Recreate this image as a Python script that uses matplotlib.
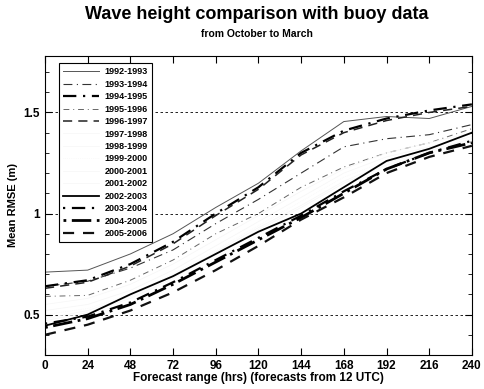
import numpy as np
import matplotlib
matplotlib.use("Agg")
import matplotlib.pyplot as plt
from matplotlib.ticker import MultipleLocator, FixedLocator

plt.rcParams['font.family'] = ['Liberation Sans', 'DejaVu Sans']
plt.rcParams['font.weight'] = 'bold'

# forecast range (hours)
hours = [0, 24, 48, 72, 96, 120, 144, 168, 192, 216, 240]

# mean RMSE (m) per season
y1992 = [0.71, 0.72, 0.80, 0.90, 1.03, 1.15, 1.31, 1.455, 1.48, 1.47, 1.53]
y1993 = [0.64, 0.665, 0.73, 0.82, 0.95, 1.07, 1.20, 1.33, 1.37, 1.39, 1.44]
y1994 = [0.64, 0.67, 0.75, 0.86, 1.00, 1.13, 1.30, 1.41, 1.47, 1.51, 1.54]
y1995 = [0.59, 0.595, 0.67, 0.77, 0.90, 1.00, 1.13, 1.23, 1.30, 1.35, 1.42]
y1996 = [0.63, 0.66, 0.74, 0.85, 0.99, 1.12, 1.29, 1.40, 1.46, 1.50, 1.53]
y1997 = [0.55, 0.58, 0.65, 0.75, 0.87, 0.99, 1.11, 1.22, 1.30, 1.35, 1.40]
y1998 = [0.52, 0.55, 0.62, 0.72, 0.84, 0.96, 1.08, 1.20, 1.28, 1.33, 1.38]
y1999 = [0.50, 0.53, 0.60, 0.70, 0.82, 0.94, 1.06, 1.18, 1.26, 1.32, 1.37]
y2000 = [0.48, 0.52, 0.59, 0.69, 0.81, 0.93, 1.04, 1.16, 1.25, 1.31, 1.37]
y2001 = [0.47, 0.51, 0.58, 0.68, 0.80, 0.92, 1.03, 1.15, 1.24, 1.30, 1.36]
y2002 = [0.445, 0.50, 0.60, 0.69, 0.80, 0.91, 1.00, 1.13, 1.26, 1.32, 1.40]
y2003 = [0.455, 0.49, 0.56, 0.66, 0.77, 0.88, 0.99, 1.11, 1.22, 1.30, 1.36]
y2004 = [0.436, 0.48, 0.55, 0.65, 0.76, 0.87, 0.98, 1.10, 1.22, 1.30, 1.35]
y2005 = [0.40, 0.45, 0.52, 0.61, 0.72, 0.84, 0.97, 1.08, 1.20, 1.28, 1.335]

labels = ["1992-1993", "1993-1994", "1994-1995", "1995-1996", "1996-1997",
          "1997-1998", "1998-1999", "1999-2000", "2000-2001", "2001-2002",
          "2002-2003", "2003-2004", "2004-2005", "2005-2006"]
series = [y1992, y1993, y1994, y1995, y1996, y1997, y1998, y1999, y2000,
          y2001, y2002, y2003, y2004, y2005]

faint = '#f6f6f6'
styles = [
    dict(color='#555555', lw=0.7, ls='-'),
    dict(color='#333333', lw=0.8, ls=(0, (8, 4, 1, 4))),
    dict(color='black', lw=1.6, ls=(0, (6, 3, 1, 3))),
    dict(color='#666666', lw=0.7, ls=(0, (6, 4, 1, 4))),
    dict(color='#222222', lw=1.1, ls=(0, (6, 4))),
    dict(color=faint, lw=0.5, ls='-'),
    dict(color=faint, lw=0.5, ls='-'),
    dict(color=faint, lw=0.5, ls=':'),
    dict(color=faint, lw=0.5, ls='-'),
    dict(color=faint, lw=0.5, ls='-'),
    dict(color='black', lw=1.3, ls='-'),
    dict(color='black', lw=1.6, ls=(0, (1, 3, 6, 3))),
    dict(color='black', lw=2.0, ls=(0, (1, 2, 7, 2))),
    dict(color='#111111', lw=1.6, ls=(0, (5, 4))),
]

fig = plt.figure(figsize=(4.84, 3.89), dpi=100)
ax = fig.add_axes([0.093, 0.0874, 0.882, 0.769])

for vals, lab, st in zip(series, labels, styles):
    ax.plot(hours, vals, label=lab, **st)

ax.set_xlim(0, 240)
ax.set_ylim(0.3, 1.78)
ax.set_xticks(hours)
ax.yaxis.set_major_locator(FixedLocator([0.5, 1.0, 1.5]))
ax.set_yticklabels(['0.5', '1', '1.5'])
ax.yaxis.set_minor_locator(MultipleLocator(0.1))
ax.tick_params(which='both', direction='in', top=True, right=True, labelsize=8.5)
ax.tick_params(which='major', length=5)
ax.tick_params(which='minor', length=3)
for t in ax.get_xticklabels() + ax.get_yticklabels():
    t.set_fontweight('bold')
ax.grid(True, axis='y', which='major', color='black', ls=(0, (3, 3)), lw=0.6)

ax.set_xlabel("Forecast range (hrs) (forecasts from 12 UTC)", fontsize=8.5,
              fontweight='bold', labelpad=0)
ax.set_ylabel("Mean RMSE (m)", fontsize=8, fontweight='bold', labelpad=4)

fig.text(0.53, 0.962, "Wave height comparison with buoy data", ha='center',
         va='center', fontsize=13, fontweight='bold')
fig.text(0.53, 0.913, "from October to March", ha='center', va='center',
         fontsize=7.5, fontweight='bold')

leg = ax.legend(loc='upper left', bbox_to_anchor=(0.022, 0.99), fontsize=6.5,
                handlelength=4.0, labelspacing=0.38, borderpad=0.45,
                handletextpad=0.6, fancybox=False, framealpha=1,
                edgecolor='black')
leg.get_frame().set_linewidth(0.8)
for t in leg.get_texts():
    t.set_fontweight('bold')

fig.savefig("out.png", dpi=100)
